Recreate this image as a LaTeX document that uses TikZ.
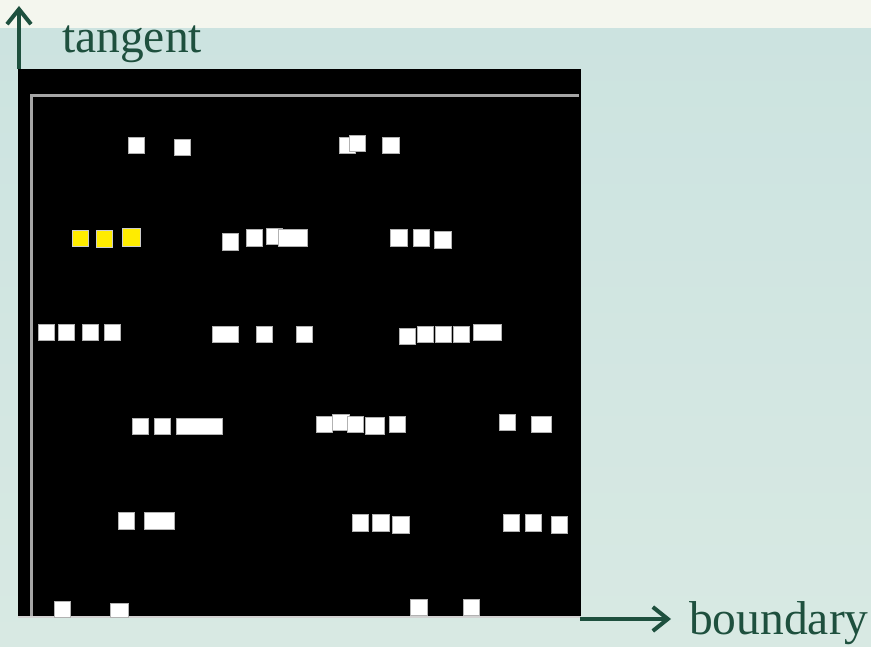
\documentclass[tikz,border=0pt]{standalone}
\usepackage{fontspec}
\setmainfont{Liberation Serif}
\usetikzlibrary{arrows.meta}

\definecolor{axisgreen}{RGB}{30,80,62}
\definecolor{bgtop}{RGB}{244,246,238}
\definecolor{bgmid}{RGB}{204,227,224}
\definecolor{bgbot}{RGB}{216,233,227}
\definecolor{cellyellow}{RGB}{255,236,0}

\begin{document}
\begin{tikzpicture}[x=1pt, y=-1pt,
    every node/.style={font=\fontsize{47.5}{50}\selectfont, text=axisgreen, inner sep=0pt},
    cell/.style={fill=white, draw=gray!60, line width=0.7pt},
    hotcell/.style={fill=cellyellow, draw=gray!40, line width=0.7pt},
    axis/.style={draw=axisgreen, line width=4pt, -{Straight Barb[length=15pt, width=24pt, line width=4pt]}}]
    \useasboundingbox (0,0) rectangle (871,647);

    % 背景
    \fill[bgtop] (0,0) rectangle (871,29);
    \shade[top color=bgmid, bottom color=bgbot] (0,29) rectangle (871,647);

    % 黑色面板和灰色边框
    \fill[black] (18,69) rectangle (581,617);
    \draw[gray!70, line width=3pt] (31,617) -- (31,96) -- (579,96);
    \draw[gray!35, line width=2.5pt] (18,617) -- (581,617);

    % 坐标轴
    \coordinate (origin) at (19,69);
    \coordinate (tangent tip) at (19,6);
    \coordinate (corner) at (580,619);
    \coordinate (boundary tip) at (671,619);
    \draw[axis] (origin) -- (tangent tip);
    \draw[axis] (corner) -- (boundary tip);
    \node[anchor=base west] (tangent) at (62,53) {tangent};
    \node[anchor=base west] (boundary) at (689,634) {boundary};

    % 白色方块
    \foreach \xa/\ya/\xb/\yb in {
        128/137/144/153, 174/139/190/155, 339/137/355/153, 349/135/365/151, 382/137/399/153,
        222/233/238/250, 246/229/262/246, 266/228/282/244, 278/229/307/246,
        390/229/407/246, 413/229/429/246, 434/231/451/248,
        38/324/54/340, 58/324/74/340, 82/324/98/340, 104/324/120/340,
        212/326/238/342, 256/326/272/342, 296/326/312/342,
        399/328/415/344, 417/326/433/342, 435/326/451/342, 453/326/469/342, 473/324/501/340,
        132/418/148/434, 154/418/170/434, 176/418/222/434,
        316/416/332/432, 332/414/349/430, 347/416/363/432, 365/417/384/434, 389/416/405/432,
        499/414/515/430, 531/416/551/432,
        118/512/134/529, 144/512/174/529, 352/514/368/531, 372/514/389/531, 392/516/409/533,
        503/514/519/531, 525/514/541/531, 551/516/567/533,
        54/601/70/617, 110/603/128/617, 410/599/427/615, 463/599/479/615}
        \draw[cell] (\xa,\ya) rectangle (\xb,\yb);

    % 黄色方块
    \foreach \xa/\ya/\xb/\yb in {72/230/88/246, 96/230/112/247, 122/228/140/246}
        \draw[hotcell] (\xa,\ya) rectangle (\xb,\yb);

\end{tikzpicture}
\end{document}
